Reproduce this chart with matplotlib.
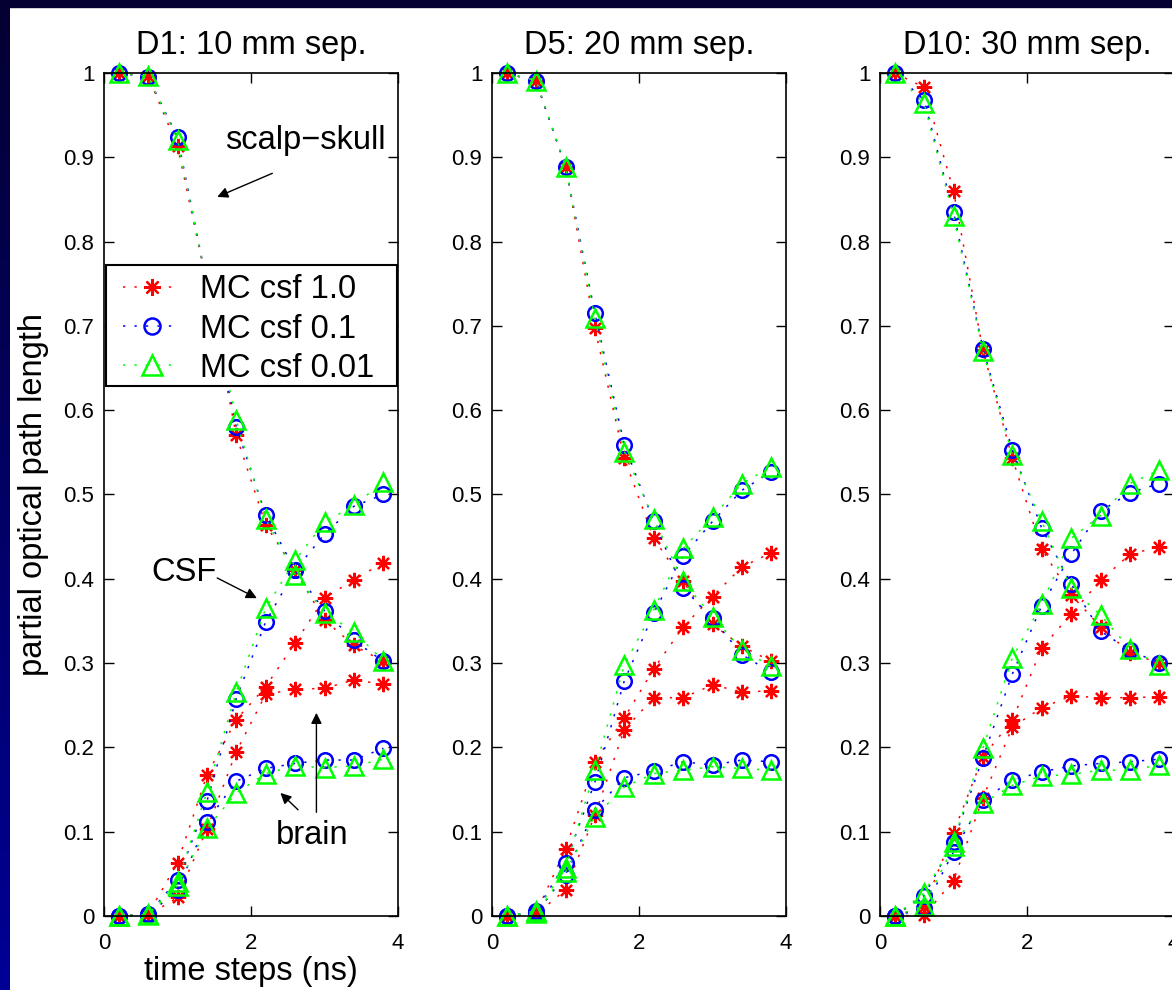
import numpy as np
import matplotlib.pyplot as plt
from matplotlib.colors import LinearSegmentedColormap
from matplotlib.patches import Rectangle

plt.rcParams['font.family'] = ['Liberation Sans', 'DejaVu Sans']

# time steps (ns)
t_ns = [0.2, 0.6, 1.0, 1.4, 1.8, 2.2, 2.6, 3.0, 3.4, 3.8]

# ---- D1: 10 mm ----
d1_skull_r = [1.0, 0.996, 0.913, 0.750, 0.570, 0.464, 0.410, 0.351, 0.321, 0.302]
d1_skull_b = [1.0, 0.995, 0.924, 0.750, 0.580, 0.476, 0.410, 0.362, 0.327, 0.302]
d1_skull_g = [1.0, 0.996, 0.921, 0.750, 0.588, 0.471, 0.405, 0.360, 0.337, 0.303]
d1_csf_r = [0.0, 0.002, 0.063, 0.167, 0.233, 0.272, 0.324, 0.377, 0.399, 0.419]
d1_csf_b = [0.0, 0.002, 0.043, 0.136, 0.258, 0.349, 0.410, 0.453, 0.486, 0.500]
d1_csf_g = [0.0, 0.002, 0.040, 0.147, 0.266, 0.365, 0.422, 0.467, 0.487, 0.515]
d1_brain_r = [0.0, 0.001, 0.022, 0.103, 0.195, 0.263, 0.269, 0.270, 0.280, 0.275]
d1_brain_b = [0.0, 0.001, 0.031, 0.112, 0.160, 0.175, 0.181, 0.185, 0.185, 0.199]
d1_brain_g = [0.0, 0.001, 0.036, 0.104, 0.146, 0.169, 0.178, 0.176, 0.178, 0.186]

# ---- D5: 20 mm ----
d5_skull_r = [1.0, 0.990, 0.889, 0.697, 0.543, 0.448, 0.397, 0.346, 0.320, 0.302]
d5_skull_b = [1.0, 0.990, 0.889, 0.715, 0.559, 0.468, 0.389, 0.353, 0.310, 0.289]
d5_skull_g = [1.0, 0.991, 0.889, 0.709, 0.551, 0.471, 0.397, 0.355, 0.316, 0.296]
d5_csf_r = [0.0, 0.004, 0.079, 0.183, 0.235, 0.293, 0.343, 0.379, 0.414, 0.431]
d5_csf_b = [0.0, 0.006, 0.063, 0.159, 0.279, 0.359, 0.427, 0.468, 0.505, 0.527]
d5_csf_g = [0.0, 0.006, 0.057, 0.173, 0.298, 0.363, 0.436, 0.473, 0.513, 0.533]
d5_brain_r = [0.0, 0.002, 0.031, 0.120, 0.221, 0.259, 0.259, 0.274, 0.266, 0.267]
d5_brain_b = [0.0, 0.003, 0.049, 0.126, 0.164, 0.172, 0.183, 0.179, 0.185, 0.183]
d5_brain_g = [0.0, 0.003, 0.052, 0.118, 0.153, 0.169, 0.173, 0.177, 0.175, 0.173]

# ---- D10: 30 mm ----
d10_skull_r = [1.0, 0.983, 0.860, 0.671, 0.543, 0.435, 0.381, 0.343, 0.312, 0.300]
d10_skull_b = [1.0, 0.968, 0.835, 0.673, 0.553, 0.460, 0.394, 0.338, 0.315, 0.300]
d10_skull_g = [1.0, 0.964, 0.830, 0.670, 0.547, 0.468, 0.389, 0.357, 0.317, 0.298]
d10_csf_r = [0.0, 0.011, 0.099, 0.189, 0.232, 0.318, 0.358, 0.398, 0.429, 0.438]
d10_csf_b = [0.0, 0.024, 0.088, 0.188, 0.287, 0.368, 0.429, 0.480, 0.502, 0.513]
d10_csf_g = [0.0, 0.027, 0.088, 0.199, 0.306, 0.370, 0.448, 0.475, 0.513, 0.529]
d10_brain_r = [0.0, 0.001, 0.042, 0.140, 0.224, 0.247, 0.261, 0.259, 0.259, 0.260]
d10_brain_b = [0.0, 0.009, 0.076, 0.138, 0.161, 0.171, 0.178, 0.181, 0.183, 0.186]
d10_brain_g = [0.0, 0.012, 0.083, 0.134, 0.155, 0.166, 0.168, 0.173, 0.173, 0.179]

titles = ['D1: 10 mm sep.', 'D5: 20 mm sep.', 'D10: 30 mm sep.']
series_labels = ['MC csf 1.0', 'MC csf 0.1', 'MC csf 0.01']
y_ticks = [0, 0.1, 0.2, 0.3, 0.4, 0.5, 0.6, 0.7, 0.8, 0.9, 1]
y_tick_labels = ['0', '0.1', '0.2', '0.3', '0.4', '0.5', '0.6', '0.7', '0.8', '0.9', '1']
x_ticks = [0, 2, 4]

panels = [
    [(d1_skull_r, d1_csf_r, d1_brain_r), (d1_skull_b, d1_csf_b, d1_brain_b), (d1_skull_g, d1_csf_g, d1_brain_g)],
    [(d5_skull_r, d5_csf_r, d5_brain_r), (d5_skull_b, d5_csf_b, d5_brain_b), (d5_skull_g, d5_csf_g, d5_brain_g)],
    [(d10_skull_r, d10_csf_r, d10_brain_r), (d10_skull_b, d10_csf_b, d10_brain_b), (d10_skull_g, d10_csf_g, d10_brain_g)],
]

styles = [
    dict(color='#ff0000', marker=(8, 2, 0), ms=11, mew=1.6),
    dict(color='#0000ff', marker='o', ms=10.5, mew=1.8, mfc='none'),
    dict(color='#00ff00', marker='^', ms=13, mew=1.8, mfc='none'),
]

W, H = 1172, 990
fig = plt.figure(figsize=(W / 100, H / 100), dpi=100, facecolor='white')

# navy border (left gradient + top strip)
bg_cmap = LinearSegmentedColormap.from_list('bg', ['#000096', '#050032'])
bax = fig.add_axes([0, 0, 10 / W, 1])
bax.imshow(np.linspace(0, 1, 256).reshape(-1, 1), cmap=bg_cmap, aspect='auto', origin='lower')
bax.axis('off')
fig.add_artist(Rectangle((0, 1 - 7 / H), 1, 7 / H, transform=fig.transFigure,
                         color='#050032', zorder=5))

lefts = [104, 492, 880]
axes = []
for i, left in enumerate(lefts):
    ax = fig.add_axes([left / W, 74 / H, 294 / W, 843 / H])
    handles = []
    for k, layers in enumerate(panels[i]):
        st = styles[k]
        for j, vals in enumerate(layers):
            ln, = ax.plot(t_ns, vals, linestyle=(0, (1.5, 6)), lw=1.1, clip_on=False,
                          label=series_labels[k] if j == 0 else None, **st)
            if j == 0:
                handles.append(ln)
    ax.set_xlim(0, 4)
    ax.set_ylim(0, 1)
    ax.set_xticks(x_ticks)
    ax.set_xticklabels([str(v) for v in x_ticks])
    ax.set_yticks(y_ticks)
    ax.set_yticklabels(y_tick_labels)
    ax.tick_params(direction='in', length=7, width=1, top=True, right=True,
                   labelsize=16, pad=7)
    ax.tick_params(axis='x', pad=12)
    for sp in ax.spines.values():
        sp.set_linewidth(1.2)
    ax.set_title(titles[i], fontsize=23.5, pad=14)
    axes.append(ax)
    if i == 0:
        leg_handles = handles

ax1 = axes[0]
ax1.set_ylabel('partial optical path length', fontsize=23.5, labelpad=10)
ax1.set_xlabel('time steps (ns)', fontsize=23.5, labelpad=2)

# legend box drawn by hand, legend content placed inside it
ax1.add_patch(Rectangle((0.007, 0.6287), 0.9896, 0.1435, transform=ax1.transAxes,
                        facecolor='white', edgecolor='black', lw=1.5,
                        zorder=9, clip_on=False))
leg = ax1.legend(handles=leg_handles, loc='upper left', bbox_to_anchor=(0.0646, 0.761),
                 fontsize=23.5, frameon=False, borderpad=0, labelspacing=0.25,
                 handlelength=1.75, handletextpad=0.6, borderaxespad=0, markerscale=1.1)
leg.set_zorder(10)

# annotations on first panel
arrow = dict(arrowstyle='-|>', color='black', lw=1.0, mutation_scale=16, shrinkA=0, shrinkB=0)
ax1.text(2.74, 0.92, 'scalp\u2212skull', fontsize=23.5, ha='center', va='center')
ax1.annotate('', xy=(1.54, 0.853), xytext=(2.29, 0.881), arrowprops=arrow)
ax1.text(1.09, 0.407, 'CSF', fontsize=23.5, ha='center', va='center')
ax1.annotate('', xy=(2.08, 0.377), xytext=(1.54, 0.401), arrowprops=arrow)
ax1.text(2.83, 0.096, 'brain', fontsize=23.5, ha='center', va='center')
ax1.annotate('', xy=(2.40, 0.146), xytext=(2.64, 0.126), arrowprops=arrow)
ax1.annotate('', xy=(2.89, 0.241), xytext=(2.89, 0.123), arrowprops=arrow)

fig.savefig('out.png', dpi=100, facecolor='white')
